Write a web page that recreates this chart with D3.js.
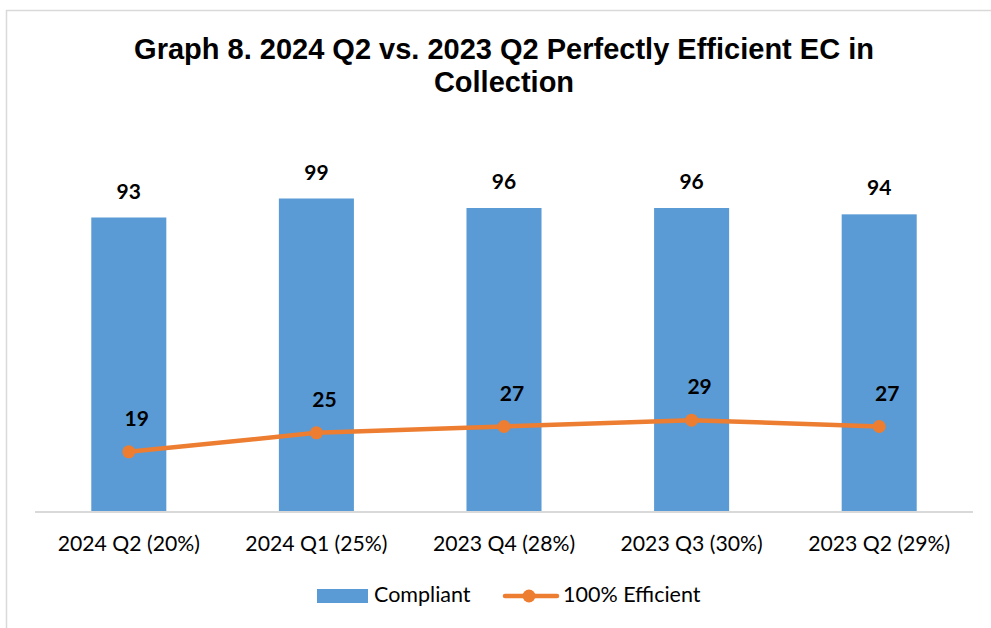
<!DOCTYPE html>
<html><head><meta charset="utf-8">
<script src="https://cdn.jsdelivr.net/npm/d3@7"></script>
<style>body{margin:0;background:#fff}svg{display:block}</style>
</head><body>
<svg id="chart" width="991" height="628"></svg>
<script>
const categories = ["2024 Q2 (20%)", "2024 Q1 (25%)", "2023 Q4 (28%)", "2023 Q3 (30%)", "2023 Q2 (29%)"];
const compliant = [93, 99, 96, 96, 94];
const efficient = [19, 25, 27, 29, 27];
const seriesNames = ["Compliant", "100% Efficient"];
const titleLines = ["Graph 8. 2024 Q2 vs. 2023 Q2 Perfectly Efficient EC in", "Collection"];

const svg = d3.select("#chart");
const blue = "#5B9BD5", orange = "#ED7D31";
const bodyFont = "Lato, 'Open Sans', sans-serif";

// outer frame
svg.append("rect").attr("x", 6.5).attr("y", 10.5).attr("width", 1000).attr("height", 700)
  .attr("fill", "#fff").attr("stroke", "#d9d9d9").attr("stroke-width", 1.5);

// title
const title = svg.append("text").attr("text-anchor", "middle")
  .attr("font-family", "'Liberation Sans', Arial, sans-serif").attr("font-weight", "bold")
  .attr("font-size", 29).attr("fill", "#000");
titleLines.forEach((t, i) => title.append("tspan").attr("x", 504).attr("y", 59 + i * 33).text(t));

const x = d3.scaleBand().domain(categories).range([35, 973]).paddingInner(0.6).paddingOuter(0.3);
const y = d3.scaleLinear().domain([0, 120]).range([512, 132]);

// bars
svg.append("g").selectAll("rect").data(compliant).join("rect")
  .attr("x", (d, i) => x(categories[i])).attr("width", x.bandwidth())
  .attr("y", d => y(d)).attr("height", d => y(0) - y(d)).attr("fill", blue);

// x axis
const xAxis = svg.append("g").attr("transform", `translate(0,${y(0)})`)
  .call(d3.axisBottom(x).tickSize(0).tickPadding(0));
xAxis.select(".domain").attr("stroke", "#d9d9d9").attr("stroke-width", 2).attr("d", "M35,0H973");
xAxis.selectAll("text").attr("font-family", bodyFont).attr("font-size", 21.2).attr("fill", "#000")
  .attr("dy", null).attr("y", 39);

// bar labels
svg.append("g").selectAll("text").data(compliant).join("text")
  .attr("x", (d, i) => x(categories[i]) + x.bandwidth() / 2).attr("y", d => y(d) - 19)
  .attr("text-anchor", "middle").attr("font-family", bodyFont).attr("font-weight", "bold")
  .attr("font-size", 21).attr("fill", "#000").text(d => d);

// line
const cx = (d, i) => x(categories[i]) + x.bandwidth() / 2;
const line = d3.line().x(cx).y(d => y(d));
svg.append("path").datum(efficient).attr("d", line).attr("fill", "none")
  .attr("stroke", orange).attr("stroke-width", 4.5).attr("stroke-linejoin", "round").attr("stroke-linecap", "round");
svg.append("g").selectAll("circle").data(efficient).join("circle")
  .attr("cx", cx).attr("cy", d => y(d)).attr("r", 6.5).attr("fill", orange);
svg.append("g").selectAll("text").data(efficient).join("text")
  .attr("x", (d, i) => cx(d, i) + 8).attr("y", d => y(d) - 26)
  .attr("text-anchor", "middle").attr("font-family", bodyFont).attr("font-weight", "bold")
  .attr("font-size", 21).attr("fill", "#000").text(d => d);

// legend
const lg = svg.append("g");
lg.append("rect").attr("x", 317).attr("y", 589).attr("width", 51).attr("height", 14).attr("fill", blue);
lg.append("text").attr("x", 374).attr("y", 602).attr("font-family", bodyFont).attr("font-size", 21.5)
  .attr("fill", "#000").text(seriesNames[0]);
lg.append("line").attr("x1", 505).attr("x2", 557).attr("y1", 596).attr("y2", 596)
  .attr("stroke", orange).attr("stroke-width", 4.5).attr("stroke-linecap", "round");
lg.append("circle").attr("cx", 529).attr("cy", 596).attr("r", 6.5).attr("fill", orange);
lg.append("text").attr("x", 563).attr("y", 602).attr("font-family", bodyFont).attr("font-size", 21.5)
  .attr("fill", "#000").text(seriesNames[1]);
</script>
</body></html>
